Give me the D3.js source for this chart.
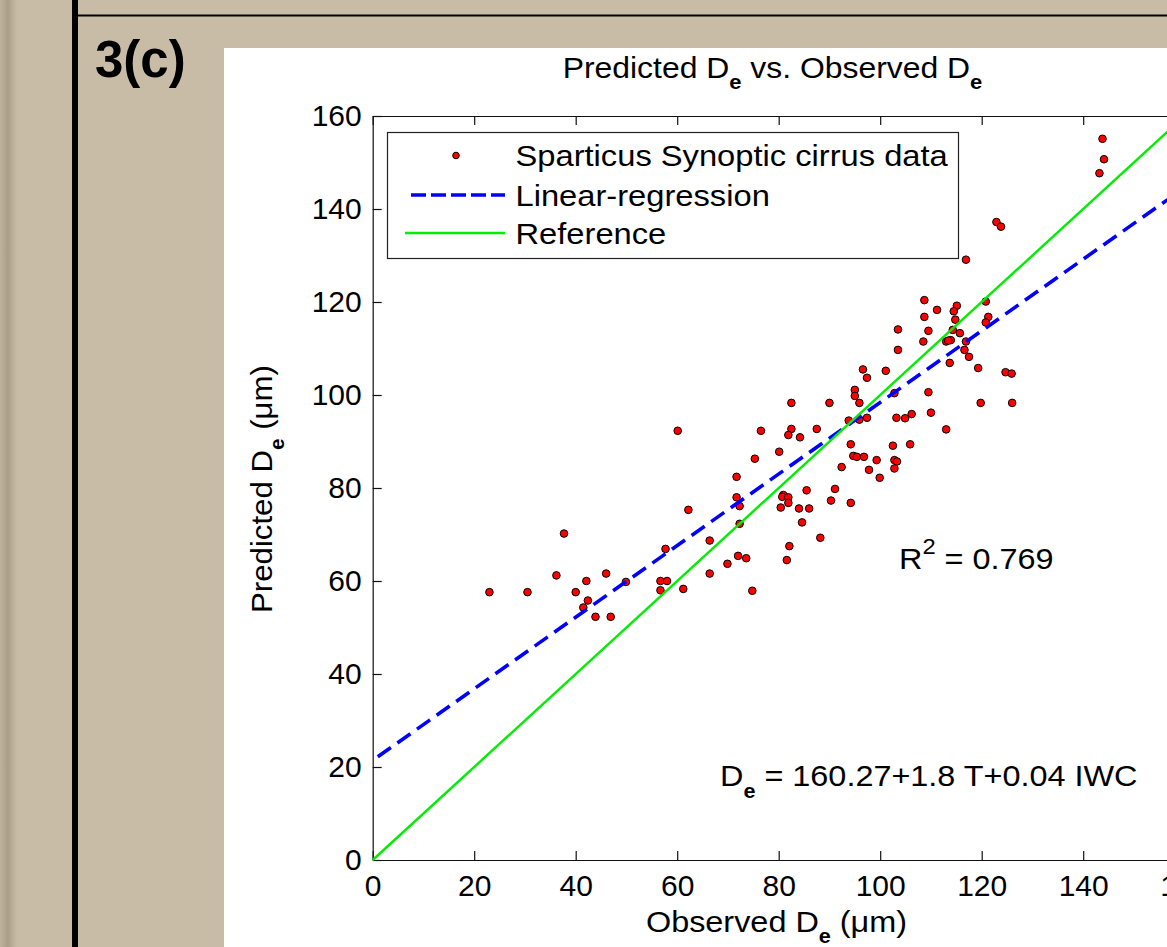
<!DOCTYPE html>
<html>
<head>
<meta charset="utf-8">
<script src="https://cdn.jsdelivr.net/npm/d3@7"></script>
<style>
  html, body { margin: 0; padding: 0; background: #c8bca7; overflow: hidden; }
  svg { display: block; }
  text { font-family: "Liberation Sans", Arial, Helvetica, sans-serif; fill: #000; white-space: pre; }
</style>
</head>
<body>
<svg id="chart" width="1167" height="947"></svg>
<script>
/* global d3 */

// Observed vs predicted effective diameter De (um)
var observed = [
  60.1, 71.7, 71.7, 72.3, 62.2, 37.7, 72.3, 66.4, 57.7, 72.0,
  69.9, 36.2, 46.0, 66.4, 42.1, 49.9, 56.7, 58.0, 23.0, 30.5,
  40.0, 56.7, 61.2, 42.4, 41.5, 43.9, 46.9, 74.8, 73.6,
  103.5, 103.5, 96.6, 101.1, 97.4, 95.0, 95.0, 95.9, 82.5, 90.0,
  103.2, 97.4, 95.9, 93.8, 76.5, 82.5, 81.9, 84.2, 87.5, 94.2,
  102.5, 80.1, 75.3, 94.7, 95.4, 96.8, 99.3, 102.8, 103.3, 92.4,
  97.8, 102.8, 99.9, 85.5, 91.1, 80.9, 80.7, 81.9, 90.3, 94.2,
  81.9, 80.4, 84.0, 86.0, 84.6, 88.2, 82.1, 81.6,
  143.8, 144.1, 143.2, 122.9, 123.8, 116.9, 108.7, 120.8, 115.1, 114.5,
  111.2, 108.7, 121.3, 120.8, 114.8, 109.5, 115.7, 114.3, 108.5, 113.0,
  113.9, 113.4, 116.9, 116.6, 113.7, 117.5, 119.3, 124.7, 125.9, 109.5,
  102.8, 104.9, 106.2, 110.0, 119.8, 126.0, 113.0, 105.9
]
var predicted = [
  92.3, 82.4, 78.0, 76.1, 75.3, 70.2, 72.3, 68.7, 66.9, 65.4,
  63.7, 61.2, 61.6, 61.6, 60.0, 59.8, 60.0, 60.0, 57.6, 57.6,
  57.6, 58.0, 58.3, 55.8, 54.3, 52.3, 52.3, 57.9, 64.9,
  114.1, 109.7, 105.5, 105.2, 103.7, 101.1, 99.8, 98.3, 98.3, 98.3,
  95.1, 95.1, 94.7, 94.5, 92.3, 92.7, 91.4, 90.9, 92.7, 89.4,
  89.1, 87.8, 86.3, 86.9, 86.7, 86.7, 86.0, 86.0, 85.7, 84.5,
  83.9, 84.2, 82.2, 79.5, 79.8, 78.5, 78.1, 78.0, 77.3, 76.8,
  76.8, 75.8, 75.6, 75.6, 72.6, 69.3, 67.5, 64.5,
  155.1, 150.7, 147.7, 137.2, 136.2, 129.1, 120.4, 120.1, 119.2, 118.0,
  118.3, 116.8, 116.8, 115.6, 116.2, 113.8, 113.3, 114.0, 111.5, 111.5,
  111.8, 111.7, 111.5, 109.7, 106.9, 108.2, 105.8, 104.9, 104.6, 100.6,
  100.4, 95.0, 95.9, 96.2, 98.3, 98.3, 92.6, 89.4
]

// fitted line and the 1:1 reference
var regressionX = [1, 160]
var regressionY = [22.2, 144.6]
var referenceX = [0, 160]
var referenceY = [0, 160]

var xTicks = [0, 20, 40, 60, 80, 100, 120, 140, 160]
var yTicks = [0, 20, 40, 60, 80, 100, 120, 140, 160]

var legendLabels = ['Sparticus Synoptic cirrus data', 'Linear-regression', 'Reference']

;(function () {
  var svg = d3.select('#chart')
  var W = 1167
  var H = 947

  /*
      --------------------------------------
      Slide background
  */
  var defs = svg.append('defs')
  var grad = defs.append('linearGradient').attr('id', 'edge')
  grad.append('stop').attr('offset', '0%').attr('stop-color', '#bfb39d')
  grad.append('stop').attr('offset', '45%').attr('stop-color', '#a99f88')
  grad.append('stop').attr('offset', '100%').attr('stop-color', '#c8bca7')

  svg.append('rect').attr('width', W).attr('height', H).attr('fill', '#c8bca7')
  svg.append('rect').attr('x', 0).attr('width', 17).attr('height', H).attr('fill', 'url(#edge)')
  svg.append('rect').attr('x', 72).attr('width', 6).attr('height', H).attr('fill', '#000')
  svg.append('rect').attr('x', 78).attr('y', 14.5).attr('width', W - 78).attr('height', 2).attr('fill', '#000')
  svg.append('rect').attr('x', 224).attr('y', 48).attr('width', W - 224).attr('height', H - 48).attr('fill', '#fff')

  svg.append('text')
    .attr('x', 95).attr('y', 77)
    .style('font-size', '51px').style('font-weight', 'bold')
    .text('3(c)')

  /*
      --------------------------------------
      Scales and axes
  */
  var x = d3.scaleLinear().domain([0, 160]).range([372.7, 1184.7])
  var y = d3.scaleLinear().domain([0, 160]).range([860, 116])

  var plot = svg.append('g')

  plot.append('g')
    .attr('transform', `translate(0,${y(0)})`)
    .call(d3.axisBottom(x).tickValues(xTicks).tickSizeInner(-9).tickSizeOuter(0).tickPadding(14.5))
  plot.append('g')
    .attr('transform', `translate(0,${y(160)})`)
    .call(d3.axisTop(x).tickValues(xTicks).tickSizeInner(-9).tickSizeOuter(0).tickFormat(''))
  plot.append('g')
    .attr('transform', `translate(${x(0)},0)`)
    .call(d3.axisLeft(y).tickValues(yTicks).tickSizeInner(-9).tickSizeOuter(0).tickPadding(11))
  plot.append('g')
    .attr('transform', `translate(${x(160)},0)`)
    .call(d3.axisRight(y).tickValues(yTicks).tickSizeInner(-9).tickSizeOuter(0).tickFormat(''))

  plot.selectAll('.tick text')
    .style('font-size', '30px')
    .style('font-family', '"Liberation Sans", Arial, sans-serif')
    .attr('fill', '#000')
  plot.selectAll('.domain, .tick line').attr('stroke', '#111').attr('stroke-width', 1.2)

  /*
      --------------------------------------
      Marks
  */
  var points = observed.map((d, i) => ({ x: d, y: predicted[i] }))

  plot.append('g').selectAll('circle')
    .data(points)
    .enter()
    .append('circle')
    .attr('cx', d => x(d.x))
    .attr('cy', d => y(d.y))
    .attr('r', 3.8)
    .attr('fill', '#ff0000')
    .attr('stroke', '#000')
    .attr('stroke-width', 1)

  var line = d3.line().x(d => x(d[0])).y(d => y(d[1]))

  plot.append('path')
    .attr('d', line(d3.zip(regressionX, regressionY)))
    .attr('fill', 'none')
    .attr('stroke', '#0000ff')
    .attr('stroke-width', 3.6)
    .attr('stroke-dasharray', '16,8')

  plot.append('path')
    .attr('d', line(d3.zip(referenceX, referenceY)))
    .attr('fill', 'none')
    .attr('stroke', '#00ee00')
    .attr('stroke-width', 2.4)

  /*
      --------------------------------------
      Text helpers (the figure's text is slightly widened)
  */
  function label (x0, y0, size, sx, anchor, rot) {
    var t = `translate(${x0},${y0})` + (rot ? ` rotate(${rot})` : '') + ` scale(${sx},1)`
    return svg.append('text')
      .attr('transform', t)
      .attr('text-anchor', anchor || 'start')
      .style('font-size', size + 'px')
  }
  function sub (txt, str, dy) {
    txt.append('tspan').attr('dy', dy).style('font-size', '20px').style('font-weight', 'bold').text(str)
  }

  // title
  var title = label(772.5, 78, 29, 1.1, 'middle')
  title.append('tspan').text('Predicted D')
  sub(title, 'e', 11)
  title.append('tspan').attr('dy', -11).text(' vs. Observed D')
  sub(title, 'e', 11)

  // x label
  var xl = label(776.5, 932, 30, 1.08, 'middle')
  xl.append('tspan').text('Observed D')
  sub(xl, 'e', 11)
  xl.append('tspan').attr('dy', -11).text(' (\u03bcm)')

  // y label
  var yl = label(272, 489, 30, 1.04, 'middle', -90)
  yl.append('tspan').text('Predicted D')
  sub(yl, 'e', 12)
  yl.append('tspan').attr('dy', -12).text(' (\u03bcm)')

  // annotations
  var r2 = label(899, 569, 30, 1.08)
  r2.append('tspan').text('R')
  r2.append('tspan').attr('dy', -15).style('font-size', '22px').text('2')
  r2.append('tspan').attr('dy', 15).text(' = 0.769')

  var eq = label(720, 786, 30, 1.08)
  eq.append('tspan').text('D')
  sub(eq, 'e', 12)
  eq.append('tspan').attr('dy', -12).text(' = 160.27+1.8 T+0.04 IWC')

  /*
      --------------------------------------
      Legend
  */
  var lg = svg.append('g')
  lg.append('rect')
    .attr('x', 387.5).attr('y', 132.5).attr('width', 571).attr('height', 126)
    .attr('fill', '#fff').attr('stroke', '#222').attr('stroke-width', 1.2)

  var rowY = [155.5, 195, 233]
  lg.append('circle').attr('cx', 456).attr('cy', rowY[0]).attr('r', 3.3)
    .attr('fill', '#ff0000').attr('stroke', '#000').attr('stroke-width', 1)
  lg.append('line').attr('x1', 411).attr('x2', 505).attr('y1', rowY[1]).attr('y2', rowY[1])
    .attr('stroke', '#0000ff').attr('stroke-width', 3.6).attr('stroke-dasharray', '15,5')
  lg.append('line').attr('x1', 405).attr('x2', 505).attr('y1', rowY[2]).attr('y2', rowY[2])
    .attr('stroke', '#00ee00').attr('stroke-width', 2.4)

  legendLabels.forEach(function (s, i) {
    label(515.5, rowY[i] + 10.5, 30, 1.09, 'start').text(s)
  })
})()
</script>
</body>
</html>
